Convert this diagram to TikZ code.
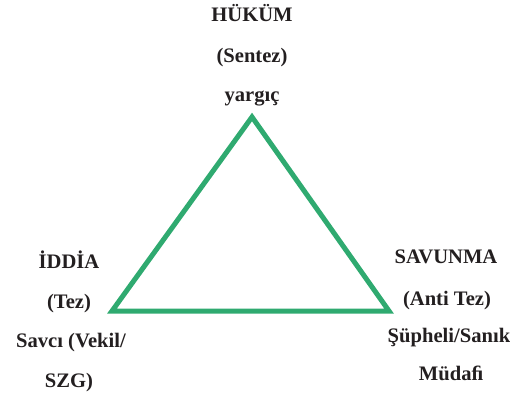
\documentclass[tikz,border=0pt]{standalone}
\usepackage{fontspec}
\setmainfont{Liberation Serif}
\usepackage{xcolor}
\definecolor{kenar}{HTML}{2FAA70}
\definecolor{yazi}{HTML}{231F20}

\begin{document}
\begin{tikzpicture}[x=1pt,y=-1pt]
  \useasboundingbox (0,0) rectangle (510,394);
  \tikzset{etiket/.style={font=\fontsize{20.6}{25}\selectfont\bfseries,yazi,anchor=base,inner sep=0pt}}
  % Triangle corners
  \coordinate (tepe) at (252,117);
  \coordinate (sol) at (112,311);
  \coordinate (sag) at (389,311);
  \draw[kenar,line width=5pt] (tepe) -- (sol) -- (sag) -- cycle;

  % Top: judgement
  \node[etiket] (hukum) at (252,21) {HÜKÜM};
  \node[etiket] (sentez) at (252,62) {(Sentez)};
  \node[etiket] (yargic) at (252,101) {yargıç};

  % Left: claim
  \node[etiket] (iddia) at (69,268) {İDDİA};
  \node[etiket] (tez) at (69,308) {(Tez)};
  \node[etiket] (savci) at (71,347) {Savcı (Vekil/};
  \node[etiket] (szg) at (69,387) {SZG)};

  % Right: defence
  \node[etiket] (savunma) at (446,263) {SAVUNMA};
  \node[etiket] (antitez) at (447,305) {(Anti Tez)};
  \node[etiket] (supheli) at (449,342) {Şüpheli/Sanık};
  \node[etiket] (mudafi) at (451,380) {Müdaﬁ};
\end{tikzpicture}
\end{document}
